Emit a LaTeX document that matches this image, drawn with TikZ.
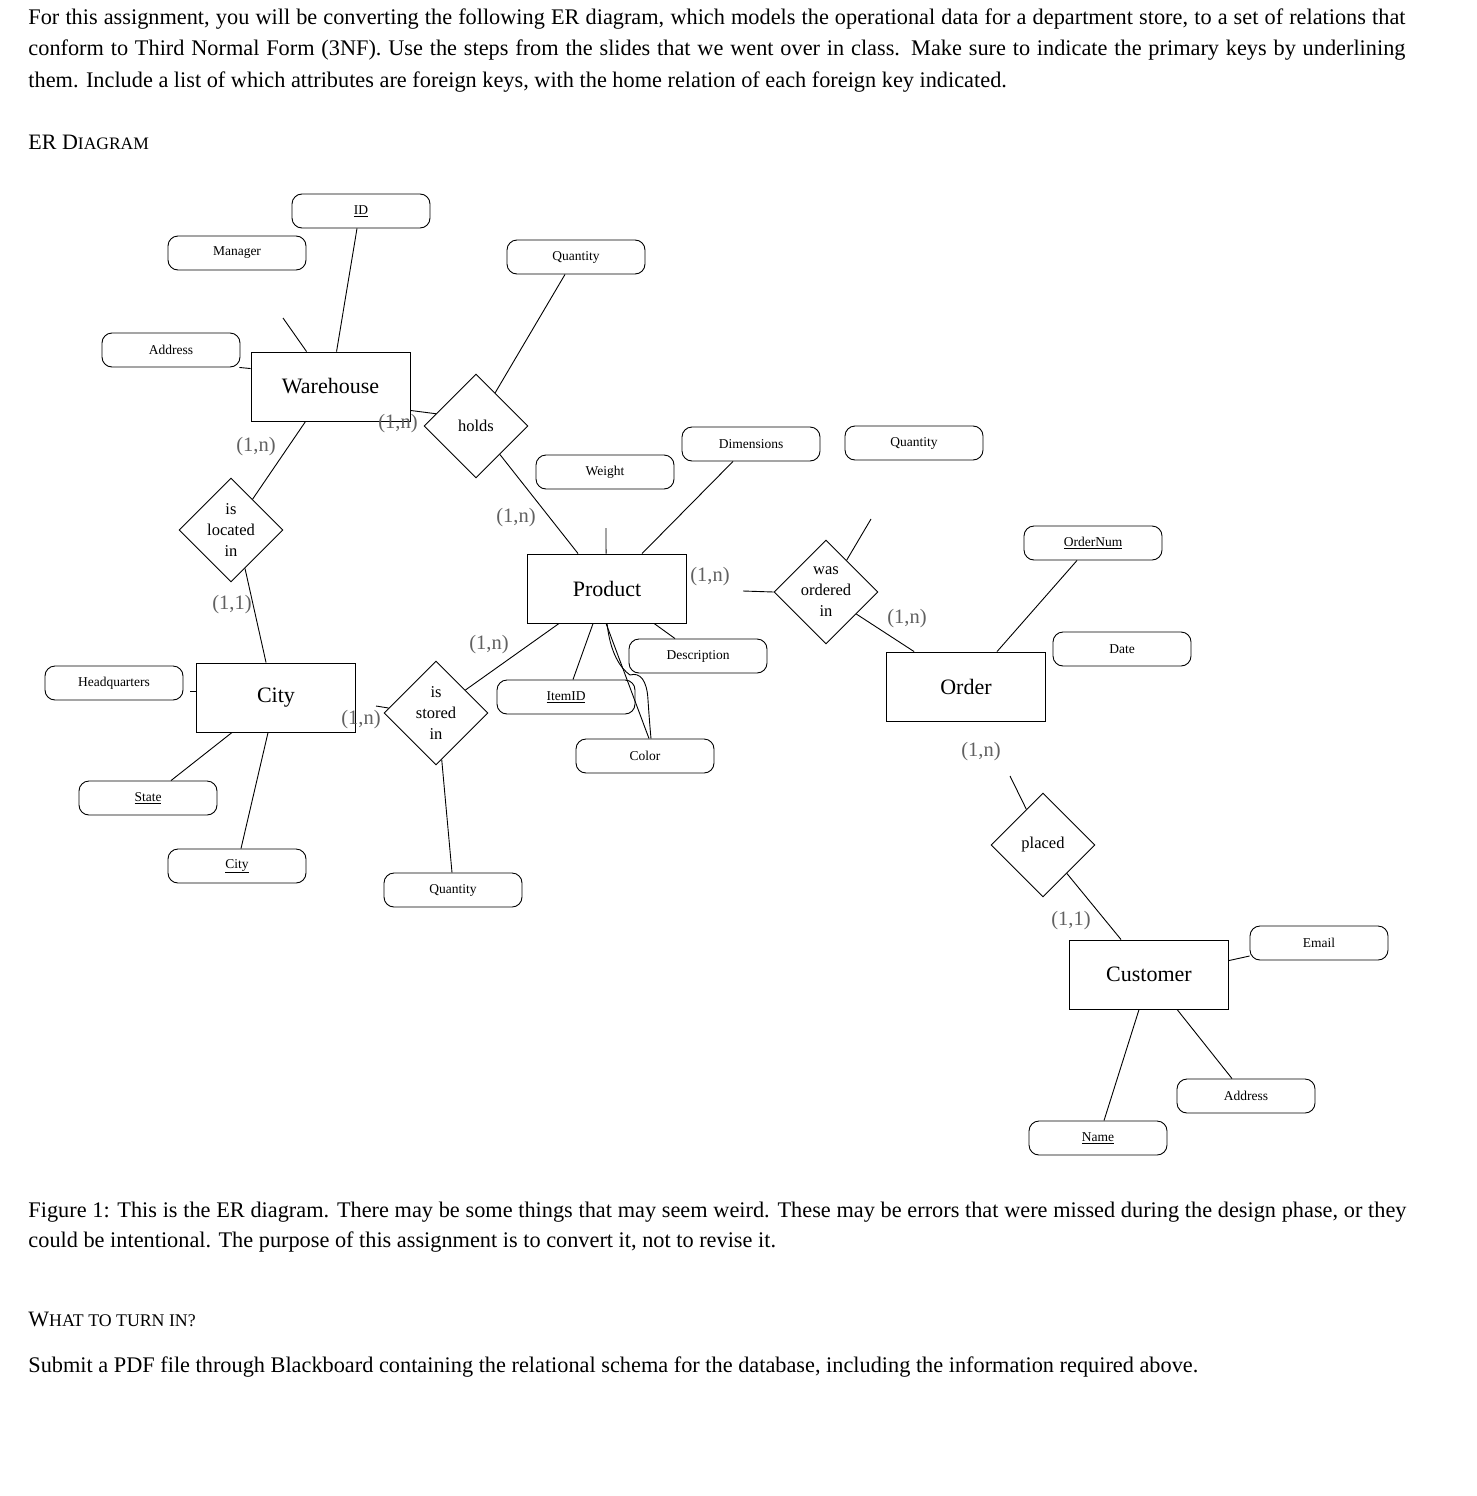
\documentclass[tikz,border=0pt]{standalone}
\usepackage{fontspec}
\setmainfont{Liberation Serif}
\usetikzlibrary{shapes.geometric}
\begin{document}
\begin{tikzpicture}[x=1pt,y=-1pt,
  attr/.style={draw, rounded corners=10pt, minimum width=138pt, minimum height=34pt, inner sep=0pt, font=\fontsize{13.5}{16}\selectfont},
  ent/.style={draw, minimum width=159pt, minimum height=69pt, inner sep=0pt, font=\fontsize{22}{26}\selectfont},
  rel/.style={draw, diamond, minimum width=104pt, minimum height=104pt, inner sep=0pt},
  reltext/.style={align=center, inner sep=0pt, font=\fontsize{16.5}{21}\selectfont},
  card/.style={text=black!62, inner sep=0pt, font=\fontsize{20.5}{24}\selectfont},
  body/.style={anchor=base west, inner sep=0pt, font=\fontsize{22.3}{26}\selectfont},
  conn/.style={line width=0.9pt},
  every node/.append style={line width=0.9pt}
]
\useasboundingbox[fill=white] (0,0) rectangle (1476,1496);

% ---------- text ----------
\node[body] (t1) at (28,25) {\makebox[1377pt][s]{For this assignment, you will be converting the following ER diagram, which models the operational data for a department store, to a set of relations that}};
\node[body] (t2) at (28,56) {\makebox[1377pt][s]{conform to Third Normal Form (3NF). Use the steps from the slides that we went over in class. Make sure to indicate the primary keys by underlining}};
\node[body] (t3) at (28,87) {them. Include a list of which attributes are foreign keys, with the home relation of each foreign key indicated.};
\node[body] (t4) at (28,149) {\fontsize{22}{24}\selectfont ER D{\fontsize{17.5}{20}\selectfont IAGRAM}};
\node[body] (c1) at (28,1217) {\makebox[1378pt][s]{Figure 1: This is the ER diagram. There may be some things that may seem weird. These may be errors that were missed during the design phase, or they}};
\node[body] (c2) at (28,1247) {could be intentional. The purpose of this assignment is to convert it, not to revise it.};
\node[body] (t5) at (28,1326) {\fontsize{22}{24}\selectfont W{\fontsize{17.8}{20}\selectfont HAT TO TURN IN?}};
\node[body] (t6) at (28,1372) {Submit a PDF file through Blackboard containing the relational schema for the database, including the information required above.};

% ---------- attributes ----------
\node[attr] (id) at (361,211) {\underline{ID}};
\node[attr] (mgr) at (237,253) {Manager};
\node[attr] (qty1) at (576,257) {Quantity};
\node[attr] (addr1) at (171,350) {Address};
\node[attr] (dim) at (751,444) {Dimensions};
\node[attr] (qty2) at (914,443) {Quantity};
\node[attr] (wgt) at (605,472) {Weight};
\node[attr] (onum) at (1093,543) {\underline{OrderNum}};
\node[attr] (date) at (1122,649) {Date};
\node[attr] (desc) at (698,656) {Description};
\node[attr] (hq) at (114,683) {Headquarters};
\node[attr] (itemid) at (566,697) {\underline{ItemID}};
\node[attr] (color) at (645,756) {Color};
\node[attr] (state) at (148,798) {\underline{State}};
\node[attr] (cityattr) at (237,866) {\underline{City}};
\node[attr] (qty3) at (453,890) {Quantity};
\node[attr] (email) at (1319,943) {Email};
\node[attr] (addr2) at (1246,1096) {Address};
\node[attr] (name) at (1098,1138) {\underline{Name}};

% ---------- entities ----------
\node[ent] (wh) at (330.5,386.5) {Warehouse};
\node[ent] (prod) at (607,588.5) {Product};
\node[ent] (city) at (276,697.5) {City};
\node[ent] (order) at (966,686.5) {Order};
\node[ent] (cust) at (1149,974.5) {Customer};

% ---------- relationships ----------
\node[rel] (holds) at (476,426) {};
\node[reltext] (holdsT) at (holds) {holds};
\node[rel] (loc) at (231,530) {};
\node[reltext] (locT) at (loc) {is\\located\\in};
\node[rel] (stored) at (436,713) {};
\node[reltext] (storedT) at (stored) {is\\stored\\in};
\node[rel] (wo) at (826,592) {};
\node[reltext] (woT) at (wo) {was\\ordered\\in};
\node[rel] (placed) at (1043,845) {};
\node[reltext] (placedT) at (placed) {placed};

% ---------- free ends ----------
\coordinate (mgrEnd) at (283,318);
\coordinate (wgtEnd) at (606,528);
\coordinate (woEnd) at (743,591);
\coordinate (qty2End) at (871,519);
\coordinate (ordEnd) at (1010,776);
\coordinate (hqEnd) at (190,691);
\coordinate (cityEnd) at (376,706);

% ---------- connectors ----------
\draw[conn] ([xshift=-4pt]id.south) -- ([xshift=86pt]wh.north west);
\draw[conn] (mgrEnd) -- ([xshift=56pt]wh.north west);
\draw[conn] ([xshift=-1pt]addr1.south east) -- ([yshift=-17pt]wh.north west);
\draw[conn] ([yshift=11pt]wh.south east) -- (holds.163);
\draw[conn] (holds.60) -- ([xshift=-11pt]qty1.south);
\draw[conn] (holds.-50) -- ([xshift=51pt]prod.north west);
\draw[conn] ([xshift=55pt]wh.south west) -- (loc.55);
\draw[conn] (loc.-70) -- ([xshift=70pt]city.north west);
\draw[conn] (hqEnd) -- ([yshift=6.5pt]city.west);
\draw[conn] ([xshift=36pt]city.south west) -- ([xshift=23pt]state.north);
\draw[conn] ([xshift=72pt]city.south west) -- ([xshift=4pt]cityattr.north);
\draw[conn] (cityEnd) -- (stored.174);
\draw[conn] (stored.38) -- ([xshift=32pt]prod.south west);
\draw[conn] (stored.-83) -- ([xshift=-1pt]qty3.north);
\draw[conn] (wgtEnd) -- ([xshift=79pt]prod.north west);
\draw[conn] ([xshift=115pt]prod.north west) -- ([xshift=-18pt]dim.south);
\draw[conn] ([xshift=66pt]prod.south west) -- ([xshift=7pt]itemid.north);
\draw[conn] ([xshift=127pt]prod.south west) -- ([xshift=-23pt]desc.north);
\draw[conn] ([xshift=79pt]prod.south west) -- ([xshift=4pt]color.north);
\draw[conn] ([xshift=80pt]prod.south west) .. controls (610,652) and (620,668) .. (630,675)
   .. controls (640,672) and (647,680) .. (648,700) .. controls (649,715) and (650,728) .. ([xshift=6pt]color.north);
\draw[conn] (woEnd) -- (wo.west);
\draw[conn] (wo.57) -- (qty2End);
\draw[conn] (wo.-36) -- ([xshift=28pt]order.north west);
\draw[conn] ([xshift=111pt]order.north west) -- ([xshift=-16pt]onum.south);
\draw[conn] (ordEnd) -- (placed.115);
\draw[conn] (placed.-50) -- ([xshift=52pt]cust.north west);
\draw[conn] ([yshift=-21pt]cust.north east) -- ([yshift=-13pt]email.west);
\draw[conn] ([xshift=70pt]cust.south west) -- ([xshift=6pt]name.north);
\draw[conn] ([xshift=108pt]cust.south west) -- ([xshift=-14pt]addr2.north);

% ---------- cardinalities ----------
\node[card] (k1) at (256,447) {(1,n)};
\node[card] (k2) at (398,424) {(1,n)};
\node[card] (k3) at (516,518) {(1,n)};
\node[card] (k4) at (232,605) {(1,1)};
\node[card] (k5) at (489,645) {(1,n)};
\node[card] (k6) at (361,720) {(1,n)};
\node[card] (k7) at (710,577) {(1,n)};
\node[card] (k8) at (907,619) {(1,n)};
\node[card] (k9) at (981,752) {(1,n)};
\node[card] (k10) at (1071,921) {(1,1)};
\end{tikzpicture}
\end{document}
